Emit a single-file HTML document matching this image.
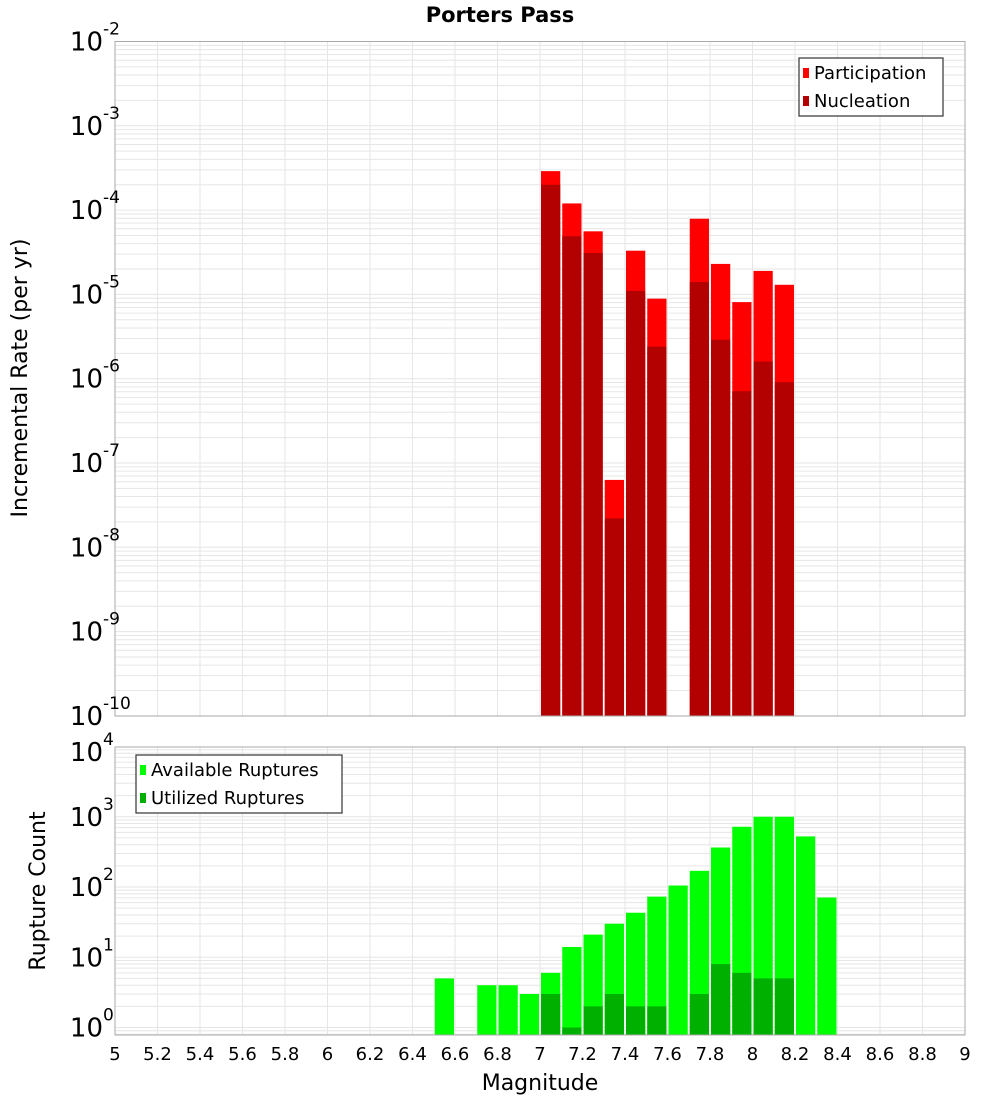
<!DOCTYPE html>
<html><head><meta charset="utf-8"><style>
body{margin:0;background:#fff;font-family:"Liberation Sans","DejaVu Sans",sans-serif}
svg text{font-family:"DejaVu Sans","Liberation Sans",sans-serif}
</style></head><body>
<svg id="chart" width="1000" height="1100" xmlns="http://www.w3.org/2000/svg">
<text x="500" y="22" text-anchor="middle" font-size="21" font-weight="bold">Porters Pass</text>
<g id="top"></g>
<g id="bot"></g>
<text transform="translate(27,378) rotate(-90)" text-anchor="middle" font-size="22">Incremental Rate (per yr)</text>
<text transform="translate(45,891) rotate(-90)" text-anchor="middle" font-size="22">Rupture Count</text>
<text x="540" y="1090" text-anchor="middle" font-size="22">Magnitude</text>
</svg>
<script>
const magBins=[7.0,7.1,7.2,7.3,7.4,7.5,7.7,7.8,7.9,8.0,8.1];
const participation=[2.9e-4,1.2e-4,5.6e-5,6.3e-8,3.3e-5,8.9e-6,7.9e-5,2.3e-5,8.1e-6,1.9e-5,1.3e-5];
const nucleation=[2.0e-4,4.9e-5,3.1e-5,2.2e-8,1.1e-5,2.4e-6,1.4e-5,2.9e-6,7.1e-7,1.6e-6,9.1e-7];
const countBins=[6.5,6.7,6.8,6.9,7.0,7.1,7.2,7.3,7.4,7.5,7.6,7.7,7.8,7.9,8.0,8.1,8.2,8.3];
const available=[5,4,4,3,6,14,21,30,43,73,105,170,365,720,1000,1000,525,71];
const utilized=[0,0,0,0,3,1,2,3,2,2,0,3,8,6,5,5,0,0];
const xTicks=[5,5.2,5.4,5.6,5.8,6,6.2,6.4,6.6,6.8,7,7.2,7.4,7.6,7.8,8,8.2,8.4,8.6,8.8,9];
const topExp=[-2,-3,-4,-5,-6,-7,-8,-9,-10];
const botExp=[0,1,2,3,4];

const NS='http://www.w3.org/2000/svg';
const L=115,R=965;
const X=m=>L+(m-5)/4*(R-L);
function mk(p,tag,a){const e=document.createElementNS(NS,tag);for(const k in a)e.setAttribute(k,a[k]);p.appendChild(e);return e;}
const yTop=v=>41.5+(-2-Math.log10(v))*84.3;
const yBot=v=>1027.5-Math.log10(v)*70.25;

function frame(g,T,B,yf,lo,hi){
  for(let e=lo;e<hi;e++)for(let k=1;k<10;k++){const y=yf(k*Math.pow(10,e));if(y<T-0.1||y>B+0.1)continue;
    const l=mk(g,'line',{x1:L,x2:R,y1:y,y2:y,stroke:'#e6e6e6','stroke-width':1});
    }
  xTicks.forEach(t=>{const l=mk(g,'line',{x1:X(t),x2:X(t),y1:T,y2:B,stroke:'#e6e6e6','stroke-width':1});
    });
}
function bar(g,m,v,yf,B,fill,name){
  const y=yf(v);const r=mk(g,'rect',{x:X(m)+1,y:y,width:X(m+0.1)-X(m)-2,height:B-y,fill:fill});
  
}
function ylab(g,e,y){
  const t=mk(g,'text',{x:103,y:y+9,'text-anchor':'end','font-size':26});
  
  t.textContent='10';
  const s=mk(g,'text',{x:103,y:y-7,'font-size':17});
  
  s.textContent=String(e);
}
function border(g,T,B){const r=mk(g,'rect',{x:L,y:T,width:R-L,height:B-T,fill:'none',stroke:'#aaa','stroke-width':1});
  }
function legend(g,x,y,w,items){
  const r=mk(g,'rect',{x:x,y:y,width:w,height:58,fill:'#fff',stroke:'#333','stroke-width':1.2});
  
  items.forEach((it,i)=>{
    const s=mk(g,'rect',{x:x+4,y:y+10+i*28,width:6,height:10,fill:it[1]});
    
    const t=mk(g,'text',{x:x+15,y:y+21+i*28,'font-size':18});
    
    t.textContent=it[0];
  });
}
// top
const gt=document.getElementById('top');
frame(gt,41.5,716,yTop,-10,-2);
magBins.forEach((m,i)=>bar(gt,m,participation[i],yTop,716,'#ff0000','participation-bar'));
magBins.forEach((m,i)=>bar(gt,m,nucleation[i],yTop,716,'#b30000','nucleation-bar'));
border(gt,41.5,716);
topExp.forEach(e=>ylab(gt,e,yTop(Math.pow(10,e))));
legend(gt,799,58,144,[['Participation','#ff0000'],['Nucleation','#b30000']]);
// bottom
const gb=document.getElementById('bot');
frame(gb,747,1035,yBot,-1,4);
countBins.forEach((m,i)=>{if(available[i]>0)bar(gb,m,available[i],yBot,1035,'#00ff00','available-bar');});
countBins.forEach((m,i)=>{if(utilized[i]>0)bar(gb,m,utilized[i],yBot,1035,'#00b000','utilized-bar');});
border(gb,747,1035);
botExp.forEach(e=>ylab(gb,e,Math.max(yBot(Math.pow(10,e)),752)));
legend(gb,136,755,206,[['Available Ruptures','#00ff00'],['Utilized Ruptures','#00b000']]);
xTicks.forEach(t=>{const e=mk(gb,'text',{x:X(t),y:1060,'text-anchor':'middle','font-size':18});
  
  e.textContent=String(t);});
</script>
</body></html>
